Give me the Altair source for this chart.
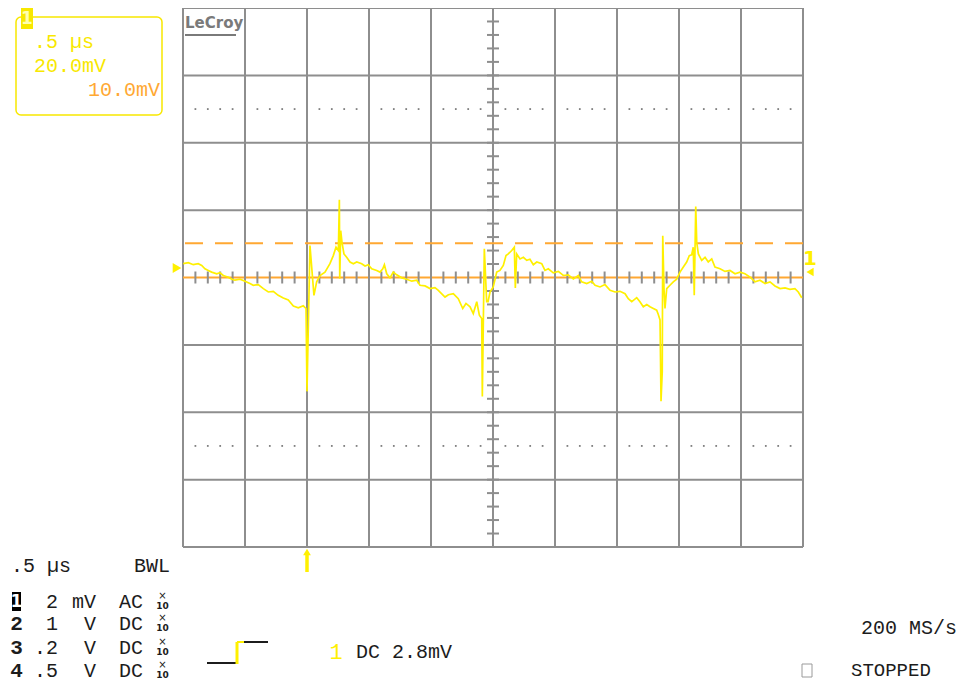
import altair as alt
import pandas as pd

# ---- data (time in µs, channel 1 in mV) ----
trace_t = [0.002, 0.043, 0.083, 0.123, 0.151, 0.177, 0.204, 0.231, 0.272, 0.298, 0.325, 0.365, 0.393, 0.419,
           0.460, 0.500, 0.540, 0.567, 0.607, 0.648, 0.688, 0.728, 0.768, 0.809, 0.849, 0.890, 0.930, 0.970,
           0.992, 1.000, 1.011, 1.024, 1.056, 1.078, 1.105, 1.145, 1.185, 1.212, 1.234, 1.253, 1.261, 1.264,
           1.272, 1.282, 1.298, 1.320, 1.347, 1.374, 1.401, 1.441, 1.468, 1.494, 1.522, 1.562, 1.589, 1.611,
           1.624, 1.643, 1.669, 1.696, 1.723, 1.764, 1.804, 1.845, 1.885, 1.911, 1.952, 1.992, 2.032, 2.059,
           2.113, 2.140, 2.180, 2.220, 2.256, 2.282, 2.315, 2.341, 2.369, 2.390, 2.409, 2.414, 2.430, 2.449,
           2.460, 2.476, 2.502, 2.530, 2.556, 2.583, 2.605, 2.623, 2.651, 2.672, 2.680, 2.691, 2.718, 2.745,
           2.772, 2.798, 2.825, 2.853, 2.893, 2.919, 2.946, 2.986, 3.027, 3.067, 3.107, 3.148, 3.188, 3.215,
           3.256, 3.296, 3.323, 3.363, 3.403, 3.444, 3.484, 3.524, 3.565, 3.591, 3.619, 3.659, 3.685, 3.712,
           3.740, 3.766, 3.793, 3.820, 3.833, 3.847, 3.855, 3.865, 3.869, 3.879, 3.887, 3.901, 3.927, 3.954,
           3.981, 4.008, 4.035, 4.062, 4.083, 4.102, 4.115, 4.123, 4.135, 4.143, 4.156, 4.183, 4.210, 4.236,
           4.264, 4.290, 4.331, 4.371, 4.411, 4.452, 4.492, 4.532, 4.573, 4.613, 4.653, 4.694, 4.734, 4.774,
           4.815, 4.855, 4.895, 4.935, 4.962, 4.990]
trace_mv = [0.41, 0.44, 0.38, 0.41, 0.36, 0.26, 0.21, 0.16, 0.11, 0.14, 0.06, 0.01, -0.05, -0.08,
            -0.05, -0.11, -0.18, -0.23, -0.21, -0.33, -0.43, -0.41, -0.53, -0.61, -0.67, -0.85, -0.90, -0.84,
            -0.92, -3.38, -1.40, 0.95, -0.53, -0.13, 0.06, 0.16, 0.41, 0.65, 0.90, 0.80, 2.31, -0.04,
            1.39, 1.05, 0.70, 0.60, 0.46, 0.41, 0.46, 0.41, 0.34, 0.38, 0.26, 0.21, 0.16, 0.26,
            0.38, 0.11, -0.01, 0.16, 0.08, -0.01, -0.05, -0.11, -0.08, -0.23, -0.25, -0.33, -0.30, -0.38,
            -0.58, -0.51, -0.48, -0.63, -0.92, -0.77, -0.87, -1.07, -0.72, -1.12, -1.22, -3.53, 0.85, -0.72,
            -0.72, -0.43, -0.28, 0.16, 0.21, 0.36, 0.65, 0.70, 0.80, 0.90, -0.31, 0.70, 0.55, 0.60,
            0.51, 0.54, 0.38, 0.46, 0.41, 0.21, 0.26, 0.14, 0.18, 0.06, 0.08, -0.04, 0.06, -0.13,
            -0.18, -0.11, -0.23, -0.28, -0.21, -0.38, -0.43, -0.41, -0.48, -0.63, -0.72, -0.60, -0.72, -0.87,
            -0.80, -0.87, -0.92, -0.97, -1.10, -1.26, -3.67, -2.79, 1.24, -0.33, -0.92, -0.33, -0.23, -0.13,
            -0.05, 0.16, 0.31, 0.46, 0.65, 0.67, 0.90, -0.53, 2.11, 1.05, 0.70, 0.51, 0.60, 0.46,
            0.55, 0.31, 0.26, 0.18, 0.21, 0.11, 0.16, 0.11, 0.01, -0.13, -0.08, -0.18, -0.13, -0.25,
            -0.33, -0.31, -0.35, -0.33, -0.43, -0.60]

time_div_lines = [0.0, 0.5, 1.0, 1.5, 2.0, 2.5, 3.0, 3.5, 4.0, 4.5, 5.0]
volt_div_lines = [-8, -6, -4, -2, 0, 2, 4, 6, 8]
dotted_levels = [-5, 5]
minor_time = [round(k * 0.1, 1) for k in range(1, 50)]
minor_volt = [round(k * 0.4, 1) for k in range(-19, 20)]
dot_time = [t for t in minor_time if round(t * 10) % 5 != 0]
zero_level = [0.0]
trigger_level = [1.02]
trigger_time = [1.0]

# ---- styling ----
GRID = "#8e8e8e"
YEL = "#FFF000"
BOXYEL = "#F8E800"
ORANGE = "#FFA832"
INK = "#1c1c1c"
MONO = "Liberation Mono"
OX, OY = 183, 8

xs = alt.Scale(domain=[0, 5], nice=False, zero=False)
ys = alt.Scale(domain=[-8, 8], nice=False, zero=False)
X = lambda f="t": alt.X(f"{f}:Q", scale=xs, axis=None)
Y = lambda f="mv": alt.Y(f"{f}:Q", scale=ys, axis=None)
one = alt.Data(values=[{"k": 0}])


def txt(s, x, y, color=INK, size=20, align="left", font=MONO, weight="normal"):
    return alt.Chart(one).mark_text(text=s, align=align, baseline="middle", font=font,
                                    fontSize=size, fontWeight=weight, color=color).encode(
        x=alt.value(x - OX), y=alt.value(y - OY))


def seg(x1, y1, x2, y2, color, w):
    return alt.Chart(one).mark_rule(color=color, strokeWidth=w).encode(
        x=alt.value(x1 - OX), x2=alt.value(x2 - OX), y=alt.value(y1 - OY), y2=alt.value(y2 - OY))


def box(x1, y1, x2, y2, stroke=None, fill=None, w=1.5, r=0):
    kw = dict(cornerRadius=r)
    if fill:
        kw["fill"] = fill
    else:
        kw["fillOpacity"] = 0
    if stroke:
        kw["stroke"] = stroke
        kw["strokeWidth"] = w
    return alt.Chart(one).mark_rect(**kw).encode(
        x=alt.value(x1 - OX), x2=alt.value(x2 - OX), y=alt.value(y1 - OY), y2=alt.value(y2 - OY))


def sym(shape, x, y, color, size):
    return alt.Chart(one).mark_point(shape=shape, filled=True, color=color, size=size, opacity=1).encode(
        x=alt.value(x - OX), y=alt.value(y - OY))


trace_df = pd.DataFrame({"t": trace_t, "mv": trace_mv, "i": range(len(trace_t))})

vgrid = alt.Chart(pd.DataFrame({"t": time_div_lines})).mark_rule(color=GRID, strokeWidth=2).encode(x=X())
hgrid = alt.Chart(pd.DataFrame({"mv": [v for v in volt_div_lines if v not in zero_level]})).mark_rule(
    color=GRID, strokeWidth=2).encode(y=Y())
dots = alt.Chart(pd.DataFrame([{"t": t, "mv": v} for v in dotted_levels for t in dot_time])).mark_square(
    size=3, color="#777777", opacity=1).encode(x=X(), y=Y())
zero_line = alt.Chart(pd.DataFrame({"mv": zero_level})).mark_rule(color=ORANGE, strokeWidth=2).encode(y=Y())
trig_line = alt.Chart(pd.DataFrame({"mv": trigger_level})).mark_rule(
    color=ORANGE, strokeWidth=2, strokeDash=[18, 12]).encode(y=Y())
xticks = alt.Chart(pd.DataFrame({"t": minor_time, "mv": [0.0] * len(minor_time)})).mark_tick(
    orient="vertical", size=12, thickness=2, color=GRID, opacity=1).encode(x=X(), y=Y())
yticks = alt.Chart(pd.DataFrame({"t": [2.5] * len(minor_volt), "mv": minor_volt})).mark_tick(
    orient="horizontal", size=12, thickness=2, color=GRID, opacity=1).encode(x=X(), y=Y())
trace = alt.Chart(trace_df).mark_line(color=YEL, strokeWidth=1.7, interpolate="linear").encode(
    x=X(), y=Y(), order="i:Q")

trig_arrow_head = alt.Chart(pd.DataFrame({"t": trigger_time})).mark_point(
    shape="triangle-up", filled=True, color=YEL, size=60, opacity=1).encode(x=X(), y=alt.value(552 - OY))
trig_arrow_stem = alt.Chart(pd.DataFrame({"t": trigger_time})).mark_rule(color=YEL, strokeWidth=3.5).encode(
    x=X(), y=alt.value(553 - OY), y2=alt.value(572 - OY))

layers = [vgrid, hgrid, dots, zero_line, trig_line, xticks, yticks, trace,
          trig_arrow_head, trig_arrow_stem,
          # left ground marker and right channel marker
          sym("triangle-right", 177, 268, YEL, 100),
          txt("1", 810, 259, YEL, 20, "center", "DejaVu Sans", "bold"),
          sym("triangle-left", 810, 272, YEL, 70),
          # LeCroy logo
          txt("LeCroy", 185, 23, "#7a7a7a", 15, "left", "DejaVu Sans", "bold"),
          seg(185, 35, 236, 35, "#7a7a7a", 2),
          # top-left info box
          box(16, 17, 162, 115, stroke=BOXYEL, w=1.5, r=5),
          box(21, 8, 33, 29, fill=BOXYEL),
          txt("1", 27, 19, "#FFFFB0", 17, "center", "DejaVu Sans", "bold"),
          txt(".5 µs", 34, 42, BOXYEL, 20),
          txt("20.0mV", 34, 66, BOXYEL, 20),
          txt("10.0mV", 160, 90, ORANGE, 20, "right"),
          # bottom-left channel table
          txt(".5 µs", 11, 566),
          txt("BWL", 170, 566, align="right"),
          box(12, 592, 21, 611, fill="#000000"),
          txt("1", 16.5, 602, "#ffffff", 17, "center", "DejaVu Sans", "bold"),
          txt("2", 16.5, 624, INK, 21, "center", MONO, "bold"),
          txt("3", 16.5, 648, INK, 21, "center", MONO, "bold"),
          txt("4", 16.5, 671, INK, 21, "center", MONO, "bold"),
          txt("2", 58, 602, align="right"),
          txt("1", 58, 624, align="right"),
          txt(".2", 58, 648, align="right"),
          txt(".5", 58, 671, align="right"),
          txt("mV", 96, 602, align="right"),
          txt("V", 96, 624, align="right"),
          txt("V", 96, 648, align="right"),
          txt("V", 96, 671, align="right"),
          txt("AC", 119, 602),
          txt("DC", 119, 624),
          txt("DC", 119, 648),
          txt("DC", 119, 671),
          ]
for yy in [602, 624, 648, 671]:
    layers.append(txt("×", 162.5, yy - 6, INK, 10, "center", "DejaVu Sans"))
    layers.append(txt("10", 162.5, yy + 4, INK, 9, "center", "DejaVu Sans", "bold"))

layers += [
    # trigger symbol
    seg(207, 663, 236, 663, INK, 2),
    seg(237, 642, 237, 664, YEL, 3),
    seg(237, 642, 244, 642, YEL, 2),
    seg(244, 642, 268, 642, INK, 2),
    txt("1", 336, 652, YEL, 22, "center", MONO),
    txt("DC 2.8mV", 356, 652),
    txt("200 MS/s", 957, 628, align="right"),
    box(802, 664, 812, 677, stroke="#9a9a9a", w=1),
    txt("STOPPED", 851, 670, size=19),
]

chart = alt.layer(*layers).properties(
    width=620, height=539,
    autosize=alt.AutoSizeParams(type="none"),
    padding={"left": 175, "top": 0, "right": 156, "bottom": 135},
    background="#ffffff",
).configure_view(stroke="transparent")

chart.save("out.html", embed_options={"renderer": "svg", "actions": False})
